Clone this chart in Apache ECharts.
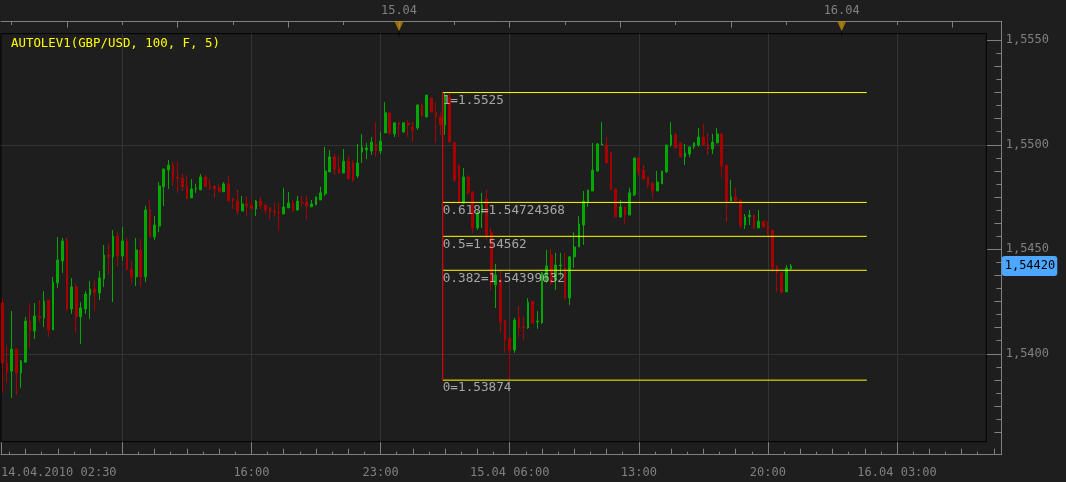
<!DOCTYPE html>
<html>
<head>
<meta charset="utf-8">
<title>AUTOLEV1 GBP/USD</title>
<script src="https://cdn.jsdelivr.net/npm/echarts@6/dist/echarts.min.js"></script>
<style>
html,body{margin:0;padding:0;background:#1e1e1e;overflow:hidden;}
#chart{width:1066px;height:482px;}
</style>
</head>
<body>
<div id="chart"></div>
<script>
// ---------- DATA ----------
// 15-minute GBP/USD bars; time in hours relative to 15.04.2010 00:00
const firstBarHour = -21.5;   // 14.04.2010 02:30
const barStepHours = 0.25;

const open = [
1.54243,1.53956,1.53917,1.54023,1.53908,1.53960,1.54157,1.54109,1.54181,1.54172,
1.54257,1.54114,1.54339,1.54444,1.54540,1.54214,1.54320,1.54177,1.54214,1.54281,
1.54310,1.54291,1.54358,1.54473,1.54464,1.54563,1.54468,1.54540,1.54406,1.54368,
1.54497,1.54368,1.54688,1.54559,1.54611,1.54799,1.54879,1.54903,1.54846,1.54841,
1.54803,1.54746,1.54789,1.54784,1.54846,1.54803,1.54799,1.54794,1.54775,1.54813,
1.54741,1.54731,1.54683,1.54717,1.54712,1.54693,1.54731,1.54712,1.54698,1.54683,
1.54678,1.54669,1.54698,1.54722,1.54688,1.54726,1.54726,1.54703,1.54712,1.54736,
1.54765,1.54870,1.54942,1.54889,1.54865,1.54922,1.54913,1.54851,1.54966,1.54975,
1.54970,1.55004,1.54970,1.55057,1.55153,1.55052,1.55105,1.55061,1.55105,1.55085,
1.55081,1.55190,1.55134,1.55224,1.55157,1.55134,1.55095,1.55228,1.55009,1.54903,
1.54722,1.54846,1.54775,1.54602,1.54674,1.54741,1.54582,1.54329,1.54353,1.54162,
1.54076,1.54018,1.54177,1.54129,1.54124,1.54252,1.54152,1.54148,1.54348,1.54473,
1.54353,1.54420,1.54411,1.54267,1.54464,1.54511,1.54616,1.54726,1.54779,1.54875,
1.54999,1.54999,1.54966,1.54789,1.54655,1.54703,1.54664,1.54760,1.54937,1.54879,
1.54846,1.54817,1.54779,1.54813,1.54870,1.54999,1.55047,1.55009,1.54942,1.54956,
1.54990,1.54999,1.55037,1.55004,1.54980,1.55009,1.55052,1.54903,1.54731,1.54751,
1.54736,1.54616,1.54655,1.54664,1.54602,1.54635,1.54611,1.54592,1.54416,1.54387,
1.54296,1.54406
];
const close = [
1.53956,1.53917,1.54023,1.53908,1.53965,1.54157,1.54109,1.54181,1.54172,1.54252,
1.54114,1.54343,1.54449,1.54540,1.54214,1.54320,1.54177,1.54219,1.54286,1.54310,
1.54291,1.54363,1.54473,1.54464,1.54563,1.54468,1.54540,1.54401,1.54368,1.54497,
1.54368,1.54688,1.54559,1.54616,1.54803,1.54884,1.54903,1.54836,1.54841,1.54799,
1.54741,1.54789,1.54794,1.54846,1.54799,1.54794,1.54789,1.54775,1.54813,1.54731,
1.54731,1.54683,1.54717,1.54707,1.54693,1.54731,1.54707,1.54688,1.54678,1.54678,
1.54674,1.54703,1.54722,1.54683,1.54731,1.54722,1.54707,1.54717,1.54751,1.54770,
1.54875,1.54942,1.54884,1.54865,1.54922,1.54836,1.54832,1.54913,1.54990,1.54985,
1.55013,1.54970,1.55018,1.55153,1.55057,1.55105,1.55095,1.55105,1.55095,1.55071,
1.55190,1.55138,1.55238,1.55157,1.55134,1.55095,1.55238,1.55013,1.54832,1.54722,
1.54846,1.54770,1.54602,1.54674,1.54712,1.54568,1.54339,1.54377,1.54152,1.54066,
1.54018,1.54162,1.54124,1.54124,1.54247,1.54148,1.54157,1.54387,1.54420,1.54339,
1.54425,1.54425,1.54267,1.54464,1.54511,1.54621,1.54731,1.54784,1.54879,1.55004,
1.55004,1.54913,1.54784,1.54655,1.54703,1.54664,1.54770,1.54937,1.54870,1.54836,
1.54808,1.54779,1.54822,1.54875,1.54999,1.55047,1.54985,1.54942,1.54961,1.54990,
1.55009,1.55037,1.54999,1.54980,1.55013,1.55052,1.54898,1.54726,1.54751,1.54731,
1.54616,1.54655,1.54664,1.54602,1.54635,1.54607,1.54587,1.54411,1.54387,1.54296,
1.54411,1.54420
];
const low = [
1.53813,1.53861,1.53789,1.53803,1.53837,1.53956,1.54028,1.54071,1.54152,1.54129,
1.54081,1.54114,1.54315,1.54387,1.54205,1.54191,1.54100,1.54047,1.54191,1.54167,
1.54205,1.54257,1.54320,1.54382,1.54247,1.54420,1.54444,1.54401,1.54334,1.54324,
1.54320,1.54343,1.54559,1.54545,1.54582,1.54707,1.54789,1.54803,1.54770,1.54779,
1.54741,1.54746,1.54770,1.54784,1.54799,1.54784,1.54746,1.54775,1.54775,1.54731,
1.54693,1.54664,1.54683,1.54659,1.54693,1.54659,1.54693,1.54669,1.54645,1.54655,
1.54587,1.54669,1.54698,1.54678,1.54683,1.54703,1.54645,1.54703,1.54712,1.54736,
1.54755,1.54870,1.54855,1.54860,1.54865,1.54836,1.54822,1.54841,1.54913,1.54932,
1.54951,1.54942,1.54956,1.55057,1.55047,1.55037,1.55037,1.55057,1.55037,1.55013,
1.55071,1.55134,1.55129,1.55157,1.55009,1.55047,1.55047,1.55009,1.54822,1.54717,
1.54717,1.54760,1.54578,1.54592,1.54602,1.54545,1.54305,1.54219,1.54100,1.54004,
1.53874,1.54004,1.54081,1.54066,1.54119,1.54143,1.54119,1.54143,1.54339,1.54329,
1.54305,1.54368,1.54257,1.54233,1.54411,1.54511,1.54521,1.54703,1.54779,1.54870,
1.54999,1.54913,1.54784,1.54655,1.54650,1.54621,1.54664,1.54755,1.54851,1.54832,
1.54794,1.54741,1.54779,1.54813,1.54865,1.54990,1.54985,1.54942,1.54903,1.54942,
1.54980,1.54990,1.54994,1.54951,1.54956,1.55009,1.54846,1.54631,1.54731,1.54731,
1.54602,1.54597,1.54616,1.54597,1.54602,1.54602,1.54568,1.54392,1.54296,1.54286,
1.54296,1.54401
];
const high = [
1.54267,1.54042,1.54205,1.54023,1.53970,1.54177,1.54243,1.54243,1.54257,1.54300,
1.54257,1.54368,1.54559,1.54554,1.54554,1.54363,1.54334,1.54247,1.54300,1.54348,
1.54353,1.54396,1.54521,1.54526,1.54592,1.54582,1.54607,1.54554,1.54444,1.54554,
1.54550,1.54707,1.54736,1.54659,1.54822,1.54884,1.54927,1.54922,1.54922,1.54860,
1.54855,1.54836,1.54813,1.54860,1.54855,1.54836,1.54808,1.54813,1.54822,1.54851,
1.54746,1.54784,1.54755,1.54751,1.54746,1.54736,1.54751,1.54717,1.54703,1.54726,
1.54722,1.54794,1.54775,1.54736,1.54755,1.54755,1.54755,1.54736,1.54751,1.54799,
1.54990,1.54975,1.54956,1.54946,1.54980,1.54946,1.54927,1.55004,1.55052,1.55009,
1.55037,1.55109,1.55061,1.55204,1.55153,1.55105,1.55109,1.55109,1.55119,1.55109,
1.55195,1.55200,1.55238,1.55224,1.55200,1.55153,1.55250,1.55248,1.55018,1.54903,
1.54889,1.54855,1.54775,1.54683,1.54770,1.54784,1.54602,1.54430,1.54401,1.54162,
1.54076,1.54172,1.54229,1.54177,1.54267,1.54252,1.54205,1.54392,1.54497,1.54502,
1.54483,1.54483,1.54483,1.54468,1.54582,1.54659,1.54779,1.54784,1.55009,1.55009,
1.55109,1.55037,1.54966,1.54789,1.54736,1.54703,1.54794,1.54937,1.54937,1.54903,
1.54846,1.54817,1.54875,1.54875,1.54999,1.55109,1.55057,1.55009,1.55004,1.54990,
1.55013,1.55081,1.55100,1.55057,1.55052,1.55081,1.55057,1.54903,1.54832,1.54794,
1.54736,1.54669,1.54688,1.54664,1.54688,1.54635,1.54635,1.54592,1.54425,1.54387,
1.54425,1.54430
];

// Fibonacci levels (AUTOLEV1)
const fibRatios = ['1', '0.618', '0.5', '0.382', '0'];
const fibLevels = [1.5525, 1.54724368, 1.54562, 1.54399632, 1.53874];
const fibStartHour = 2.37;
const fibEndHour = 25.36;

// axis ticks / labels
const bottomTickHours = [-15, -8, -1, 6, 13, 20, 27];
const bottomLabelHours = [-8, -1, 6, 13, 20, 27];
const bottomLabels = ['16:00', '23:00', '15.04 06:00', '13:00', '20:00', '16.04 03:00'];
const startLabel = '14.04.2010 02:30';
const topLabelHours = [0, 24];
const topLabels = ['15.04', '16.04'];
const priceTicks = [1.540, 1.545, 1.550, 1.555];
const titleText = 'AUTOLEV1(GBP/USD, 100, F, 5)';

// ---------- LAYOUT / STYLE ----------
const FONT = '"DejaVu Sans Mono", "Liberation Mono", monospace';
const GRAY = '#808080';
const BG = '#1e1e1e';
const plotXRange = [-21.577, 31.839];
const plotYRange = [1.535794, 1.555316];
const frameXRange = [-21.577, 32.674];
const frameYRange = [1.535172, 1.555909];

// tick sets
const bottomMid = [], bottomShort = [];
for (let k = -8; k <= 60; k++) {
  const v = +(-15 + k * 0.875).toFixed(4);
  if (v < frameXRange[0] || v > frameXRange[1] || k % 8 === 0) continue;
  (k % 2 === 0 ? bottomMid : bottomShort).push(v);
}
const topLong = [], topShort = [];
for (let k = -8; k <= 12; k++) {
  const v = 3 * k;
  if (v < frameXRange[0] || v > frameXRange[1]) continue;
  (k % 2 === 0 ? topLong : topShort).push(v);
}
const yMid = [], yShort = [];
for (let k = 0; k <= 40; k++) {
  const v = +(1.555 - k * 0.000625).toFixed(6);
  if (v < plotYRange[0] || v > plotYRange[1] || k % 8 === 0) continue;
  (k % 2 === 0 ? yMid : yShort).push(v);
}

const bars = open.map((o, i) => [firstBarHour + i * barStepHours, o, close[i], low[i], high[i]]);

function tickAxisX(position, values, length, extra) {
  return Object.assign({
    type: 'value', gridIndex: 1, position: position,
    min: frameXRange[0], max: frameXRange[1],
    axisLine: { show: false, onZero: false },
    axisTick: { show: true, inside: true, length: length, customValues: values, lineStyle: { color: GRAY, width: 1 } },
    axisLabel: { show: false },
    splitLine: { show: false }
  }, extra || {});
}
function tickAxisY(values, length, extra) {
  return Object.assign({
    type: 'value', gridIndex: 1, position: 'right',
    min: frameYRange[0], max: frameYRange[1],
    axisLine: { show: false, onZero: false },
    axisTick: { show: true, inside: true, length: length, customValues: values, lineStyle: { color: GRAY, width: 1 } },
    axisLabel: { show: false },
    splitLine: { show: false }
  }, extra || {});
}
const labelStyle = { color: GRAY, fontFamily: FONT, fontSize: 12 };

const option = {
  animation: false,
  backgroundColor: BG,
  title: {
    text: titleText, left: 11, top: 37.5, padding: 0, z: 10,
    textStyle: { color: '#ffff00', fontFamily: FONT, fontSize: 12.4, fontWeight: 'normal' }
  },
  grid: [
    { left: 1, right: 79.7, top: 33.7, bottom: 40.3, show: true, backgroundColor: BG,
      borderColor: '#000000', borderWidth: 1, z: 1, containLabel: false, outerBoundsMode: 'none' },
    { left: 1, right: 64.3, top: 21.3, bottom: 27.3, show: false, containLabel: false, outerBoundsMode: 'none' }
  ],
  xAxis: [
    { type: 'value', gridIndex: 0, min: plotXRange[0], max: plotXRange[1], show: false },
    tickAxisX('bottom', [frameXRange[0]].concat(bottomTickHours), 13, {
      axisLine: { show: true, onZero: false, lineStyle: { color: GRAY, width: 1 } },
      axisLabel: Object.assign({ show: true, margin: 12, customValues: bottomLabelHours,
        formatter: v => bottomLabels[bottomLabelHours.indexOf(v)] }, labelStyle)
    }),
    tickAxisX('bottom', bottomMid, 6),
    tickAxisX('bottom', bottomShort, 3),
    tickAxisX('bottom', [], 0, {
      axisTick: { show: false },
      axisLabel: Object.assign({ show: true, margin: 12, align: 'left', customValues: [frameXRange[0]],
        formatter: () => startLabel }, labelStyle)
    }),
    tickAxisX('top', topLong, 6.3, {
      axisLine: { show: true, onZero: false, lineStyle: { color: GRAY, width: 1 } },
      axisLabel: Object.assign({ show: true, margin: 4, customValues: topLabelHours,
        formatter: v => topLabels[topLabelHours.indexOf(v)] }, labelStyle)
    }),
    tickAxisX('top', topShort, 3.7)
  ],
  yAxis: [
    { type: 'value', gridIndex: 0, min: plotYRange[0], max: plotYRange[1], show: false },
    tickAxisY(priceTicks, 15, {
      axisLine: { show: true, onZero: false, lineStyle: { color: GRAY, width: 1 } },
      axisLabel: Object.assign({ show: true, margin: 4, customValues: priceTicks,
        formatter: v => v.toFixed(4).replace('.', ',') }, labelStyle),
      axisPointer: {
        show: true, type: 'none', status: 'show', triggerTooltip: false,
        value: close[close.length - 1],
        label: {
          show: true, margin: 0, precision: 5,
          formatter: p => Number(p.value).toFixed(5).replace('.', ','),
          backgroundColor: '#4da6ff', color: '#000000', fontFamily: FONT, fontSize: 12,
          padding: [4, 2, 4, 3], borderWidth: 0, shadowBlur: 0
        }
      }
    }),
    tickAxisY(yMid, 7.3),
    tickAxisY(yShort, 5.3)
  ],
  series: [
    {
      type: 'line', xAxisIndex: 0, yAxisIndex: 0, data: [], z: 1.5, silent: true,
      markLine: {
        silent: true, z: 1.5, symbol: ['none', 'none'], animation: false,
        label: { show: false },
        lineStyle: { color: '#333333', width: 1, type: 'solid' },
        emphasis: { disabled: true },
        data: bottomTickHours.map(h => ({ xAxis: h })).concat(priceTicks.map(p => ({ yAxis: p })))
      }
    },
    {
      type: 'candlestick', xAxisIndex: 0, yAxisIndex: 0, z: 2, silent: true,
      barWidth: 2.2,
      data: bars,
      itemStyle: {
        color: '#00a800', color0: '#a80000',
        borderColor: '#00a800', borderColor0: '#a80000', borderWidth: 1
      }
    }
  ].concat(fibLevels.map(lvl => ({
      type: 'line', xAxisIndex: 0, yAxisIndex: 0, z: 3, silent: true, symbol: 'none',
      lineStyle: { color: '#ffff00', width: 1 },
      data: [[fibStartHour, lvl], [fibEndHour, lvl]]
    }))).concat([
    {
      type: 'line', xAxisIndex: 0, yAxisIndex: 0, z: 3, silent: true, symbol: 'none',
      lineStyle: { color: '#ff0000', width: 1 },
      data: [[fibStartHour, fibLevels[fibLevels.length - 1]], [fibStartHour, fibLevels[0]]]
    },
    {
      type: 'scatter', xAxisIndex: 0, yAxisIndex: 0, z: 4, silent: true,
      symbolSize: 1, itemStyle: { color: 'rgba(0,0,0,0)' },
      data: fibLevels.map(lvl => [fibStartHour, lvl]),
      label: {
        show: true, position: 'bottom', distance: 1, align: 'left',
        formatter: p => fibRatios[p.dataIndex] + '=' + fibLevels[p.dataIndex],
        color: '#c8c8c8', fontFamily: FONT, fontSize: 12.7
      }
    },
    {
      type: 'scatter', xAxisIndex: 5, yAxisIndex: 1, z: 4, silent: true,
      symbol: 'rect', symbolSize: [1, 6], symbolOffset: [0, 12],
      itemStyle: { color: '#000000' },
      data: topLabelHours.map(h => [h, frameYRange[1]])
    },
    {
      type: 'scatter', xAxisIndex: 5, yAxisIndex: 1, z: 5, silent: true,
      symbol: 'path://M0,0L10,0L5,10Z', symbolSize: [9, 10], symbolOffset: [0, 5],
      itemStyle: { color: '#b8860b' },
      data: topLabelHours.map(h => [h, frameYRange[1]])
    }
  ])
};

const chart = echarts.init(document.getElementById('chart'));
chart.setOption(option);
</script>
</body>
</html>
